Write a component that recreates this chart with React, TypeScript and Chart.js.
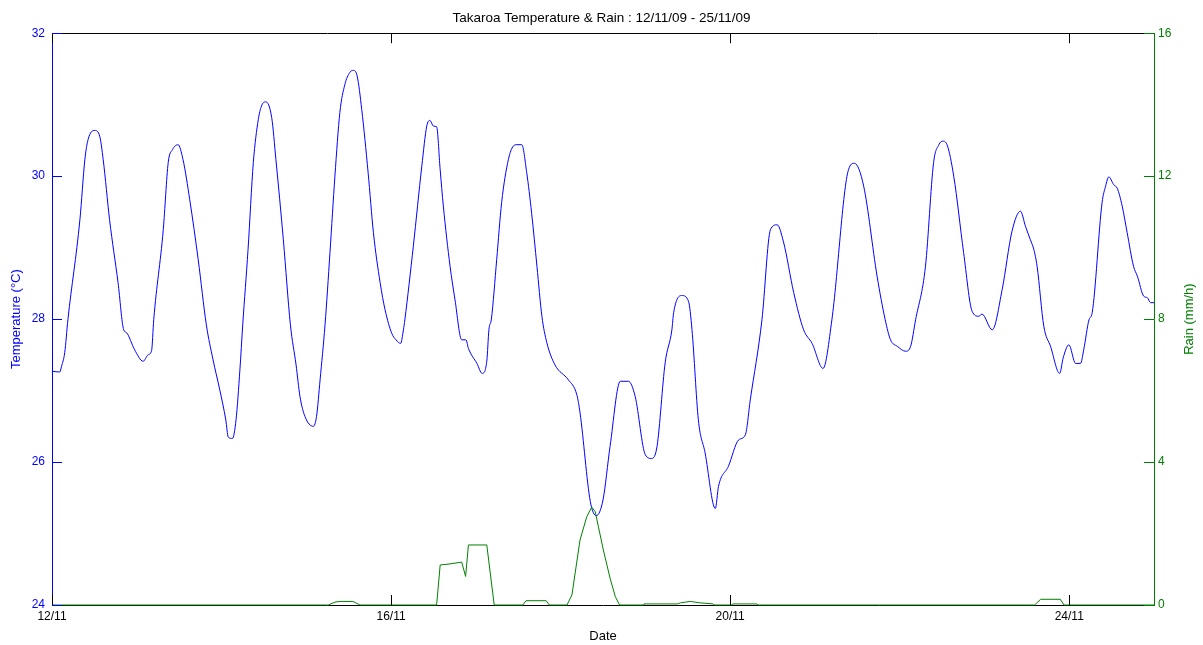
import React, { useEffect, useRef } from "react";
import { Chart, registerables } from "chart.js";

Chart.register(...registerables);

const CHART_TITLE = "Takaroa Temperature & Rain : 12/11/09 - 25/11/09";
const X_TITLE = "Date";
const TEMP_TITLE = "Temperature (°C)";
const RAIN_TITLE = "Rain (mm/h)";

// x positions are hours since 12/11/09 00:00
const xTickHours = [0, 96, 192, 288];
const xTickLabels = ["12/11", "16/11", "20/11", "24/11"];
const tempTicks = [24, 26, 28, 30, 32];
const rainTicks = [0, 4, 8, 12, 16];

const tempHours = [
  0, 2.2, 2.7, 3.6, 4.5, 7.9, 9.3, 10.2, 12.1, 13.5,
  14.5, 16.3, 18.7, 20.3, 21.1, 23.4, 25.8, 27.2, 28.2, 28.8,
  31.5, 32.9, 34.1, 35.7, 37.1, 39.0, 41.4, 43.7, 45.6, 47.5,
  49.2, 49.9, 51.1, 52.1, 53.2, 54.0, 55.5, 57.0, 58.4, 59.3,
  60.5, 62.2, 63.4, 65.5, 67.5, 69.1, 70.2, 71.6, 74.0, 74.9,
  75.9, 77.3, 78.7, 80.1, 81.5, 82.9, 84.3, 85.3, 86.4, 87.7,
  89.5, 91.0, 92.9, 94.3, 96.2, 97.4, 98.7, 99.5, 99.9, 102.3,
  104.7, 106.1, 107.0, 108.0, 108.9, 109.9, 110.8, 112.7, 114.1, 116.0,
  117.2, 117.9, 120.3, 121.8, 123.1, 123.7, 124.4, 125.9, 127.3, 129.2,
  130.6, 131.6, 133.0, 134.4, 135.8, 137.3, 138.7, 140.1, 142.4, 146.2,
  148.6, 149.5, 152.4, 154.1, 156.0, 158.0, 160.9, 163.2, 165.1, 168.0,
  169.8, 171.3, 173.6, 175.5, 176.0, 178.3, 180.2, 181.2, 183.0, 184.9,
  187.8, 188.7, 191.5, 194.4, 196.3, 197.7, 201.0, 203.4, 205.3, 207.1,
  210.0, 212.8, 215.2, 218.3, 220.8, 225.5, 227.2, 229.8, 233.6, 235.9,
  237.4, 239.3, 241.7, 243.1, 244.5, 247.3, 249.6, 251.1, 252.2, 253.4,
  255.3, 258.1, 260.5, 262.4, 263.3, 266.2, 269.0, 271.8, 274.2, 275.6,
  277.0, 278.0, 278.9, 280.8, 282.7, 285.3, 286.3, 287.9, 289.8, 291.2,
  292.1, 293.6, 294.5, 297.3, 298.3, 299.2, 300.6, 301.6, 303.0, 304.4,
  306.2, 307.3, 309.1, 310.1, 311.0, 312,
];

const tempValues = [
  27.27, 27.26, 27.34, 27.53, 27.99, 29.39, 30.23, 30.51, 30.64, 30.56,
  30.23, 29.39, 28.51, 27.85, 27.81, 27.57, 27.41, 27.5, 27.56, 27.99,
  29.25, 30.19, 30.37, 30.44, 30.23, 29.67, 28.83, 27.92, 27.43, 27.01,
  26.59, 26.35, 26.33, 26.59, 27.29, 27.92, 28.97, 30.19, 30.79, 30.98,
  31.04, 30.82, 30.23, 29.11, 27.92, 27.36, 26.92, 26.64, 26.5, 26.64,
  27.15, 27.92, 28.93, 30.0, 30.89, 31.28, 31.45, 31.48, 31.4, 30.93,
  30.05, 29.21, 28.51, 28.13, 27.8, 27.71, 27.66, 27.85, 27.99, 29.02,
  30.14, 30.7, 30.78, 30.7, 30.69, 30.09, 29.58, 28.74, 28.27, 27.71,
  27.71, 27.59, 27.38, 27.24, 27.41, 27.85, 28.0, 28.83, 29.63, 30.23,
  30.42, 30.44, 30.44, 30.05, 29.48, 28.74, 28.04, 27.67, 27.36, 27.15,
  26.94, 26.69, 25.45, 25.25, 25.47, 26.22, 27.13, 27.13, 26.92, 26.1,
  26.05, 26.22, 27.39, 27.85, 28.09, 28.33, 28.25, 27.85, 26.59, 26.13,
  25.35, 25.66, 25.94, 26.31, 26.38, 26.87, 27.99, 29.25, 29.32, 29.08,
  28.37, 27.85, 27.66, 27.31, 27.99, 30.09, 30.18, 29.86, 28.6, 27.99,
  27.71, 27.62, 27.55, 27.62, 27.99, 28.74, 30.19, 30.44, 30.49, 30.44,
  30.0, 28.93, 28.11, 28.04, 28.07, 27.85, 28.41, 29.23, 29.51, 29.3,
  29.11, 28.97, 28.74, 27.9, 27.62, 27.24, 27.46, 27.64, 27.38, 27.38,
  27.57, 27.99, 28.09, 29.63, 29.86, 29.99, 29.88, 29.83, 29.58, 29.21,
  28.74, 28.6, 28.32, 28.3, 28.23, 28.23,
];

const rainHours = [
  0, 78.2, 80.1, 81.5, 85.2, 87.2, 108.9, 109.9, 112.7, 116.0,
  117.1, 117.9, 123.1, 125.2, 133.3, 134.2, 139.9, 140.8, 145.8, 147.2,
  149.5, 151.4, 152.8, 153.8, 154.7, 156.1, 158.0, 159.5, 160.7, 167.4,
  167.6, 177.2, 177.9, 180.7, 183.5, 187.2, 187.5, 192.5, 192.7, 199.6,
  199.8, 278.2, 279.9, 285.5, 286.5, 312,
];

const rainValues = [
  0, 0, 0.08, 0.1, 0.1, 0, 0, 1.12, 1.15, 1.2,
  0.8, 1.68, 1.68, 0, 0, 0.12, 0.12, 0, 0, 0.28,
  1.82, 2.47, 2.74, 2.61, 2.19, 1.54, 0.75, 0.23, 0, 0,
  0.03, 0.03, 0.06, 0.1, 0.06, 0.03, 0, 0, 0.03, 0.03,
  0, 0, 0.16, 0.16, 0, 0,
];

const BLUE = "#0000ff";
const GREEN = "#008000";
const AXIS = "#000000";
const FONT = "'Liberation Sans', Arial, Helvetica, sans-serif";

export default function App() {
  const canvasRef = useRef<HTMLCanvasElement | null>(null);

  useEffect(() => {
    document.body.style.margin = "0";
    const canvas = canvasRef.current;
    if (!canvas) return;

    const framePlugin = {
      id: "frame",
      afterDraw(chart: any) {
        const { ctx, chartArea } = chart;
        const { left, right, top, bottom } = chartArea;
        const xs = chart.scales.x;
        const yT = chart.scales.y;
        const yR = chart.scales.y1;
        const al = (v: number) => Math.round(v) + 0.5;
        const TL = 10;
        ctx.save();
        ctx.lineWidth = 1;
        // top border
        ctx.strokeStyle = AXIS;
        ctx.beginPath();
        ctx.moveTo(left, al(top));
        ctx.lineTo(right, al(top));
        ctx.stroke();
        // x ticks (inward, bottom and top)
        xTickHours.forEach((h) => {
          const px = al(xs.getPixelForValue(h));
          ctx.beginPath();
          ctx.moveTo(px, bottom);
          ctx.lineTo(px, bottom - TL);
          ctx.moveTo(px, top);
          ctx.lineTo(px, top + TL);
          ctx.stroke();
        });
        // left ticks
        ctx.strokeStyle = BLUE;
        tempTicks.forEach((t) => {
          const py = al(yT.getPixelForValue(t));
          ctx.beginPath();
          ctx.moveTo(left, py);
          ctx.lineTo(left + TL, py);
          ctx.stroke();
        });
        // right ticks
        ctx.strokeStyle = GREEN;
        rainTicks.forEach((t) => {
          const py = al(yR.getPixelForValue(t));
          ctx.beginPath();
          ctx.moveTo(right, py);
          ctx.lineTo(right - TL, py);
          ctx.stroke();
        });
        // right axis title (reads bottom to top)
        ctx.fillStyle = GREEN;
        ctx.font = `13px ${FONT}`;
        ctx.textAlign = "center";
        ctx.textBaseline = "middle";
        ctx.translate(1189, (top + bottom) / 2);
        ctx.rotate(-Math.PI / 2);
        ctx.fillText(RAIN_TITLE, 0, 0);
        ctx.restore();
      },
    };

    const chart = new Chart(canvas, {
      type: "line",
      data: {
        datasets: [
          {
            label: "Temperature",
            data: tempHours.map((h, i) => ({ x: h, y: tempValues[i] })),
            borderColor: BLUE,
            backgroundColor: BLUE,
            borderWidth: 1,
            pointRadius: 0,
            cubicInterpolationMode: "monotone",
            yAxisID: "y",
            order: 1,
          },
          {
            label: "Rain",
            data: rainHours.map((h, i) => ({ x: h, y: rainValues[i] })),
            borderColor: GREEN,
            backgroundColor: GREEN,
            borderWidth: 1,
            pointRadius: 0,
            tension: 0,
            yAxisID: "y1",
            clip: false,
            order: 0,
          },
        ],
      },
      options: {
        responsive: false,
        animation: false,
        events: [],
        layout: { padding: 0 },
        plugins: {
          legend: { display: false },
          tooltip: { enabled: false },
          title: {
            display: true,
            text: CHART_TITLE,
            color: "#000",
            font: { family: FONT, size: 13.5, weight: "normal" },
            padding: { top: 10, bottom: 7 },
          },
        },
        scales: {
          x: {
            type: "linear",
            position: "bottom",
            min: 0,
            max: 312,
            afterBuildTicks: (s: any) => {
              s.ticks = xTickHours.map((v) => ({ value: v }));
            },
            afterFit: (s: any) => {
              s.height = 40;
            },
            ticks: {
              color: "#000",
              font: { family: FONT, size: 12 },
              padding: 4,
              maxRotation: 0,
              autoSkip: false,
              callback: (v: any) => {
                const i = xTickHours.indexOf(Number(v));
                return i >= 0 ? xTickLabels[i] : "";
              },
            },
            grid: { display: false, drawTicks: false },
            border: { display: true, color: AXIS, width: 1 },
            title: {
              display: true,
              text: X_TITLE,
              color: "#000",
              font: { family: FONT, size: 13 },
              padding: { top: 0, bottom: 1 },
            },
          },
          y: {
            type: "linear",
            position: "left",
            min: 24,
            max: 32,
            afterBuildTicks: (s: any) => {
              s.ticks = tempTicks.map((v) => ({ value: v }));
            },
            afterFit: (s: any) => {
              s.width = 52;
            },
            ticks: {
              color: BLUE,
              font: { family: FONT, size: 12 },
              padding: 7,
            },
            grid: { display: false, drawTicks: false },
            border: { display: true, color: BLUE, width: 1 },
            title: {
              display: true,
              text: TEMP_TITLE,
              color: BLUE,
              font: { family: FONT, size: 13 },
              padding: { top: 9, bottom: 0 },
            },
          },
          y1: {
            type: "linear",
            position: "right",
            min: 0,
            max: 16,
            afterBuildTicks: (s: any) => {
              s.ticks = rainTicks.map((v) => ({ value: v }));
            },
            afterFit: (s: any) => {
              s.width = 49;
            },
            ticks: {
              color: GREEN,
              font: { family: FONT, size: 12 },
              padding: 4,
            },
            grid: { display: false, drawTicks: false },
            border: { display: true, color: GREEN, width: 1 },
            title: { display: false },
          },
        },
      },
      plugins: [framePlugin],
    } as any);

    return () => chart.destroy();
  }, []);

  return (
    <div style={{ width: 1203, height: 645 }}>
      <canvas ref={canvasRef} width={1203} height={645} />
    </div>
  );
}
